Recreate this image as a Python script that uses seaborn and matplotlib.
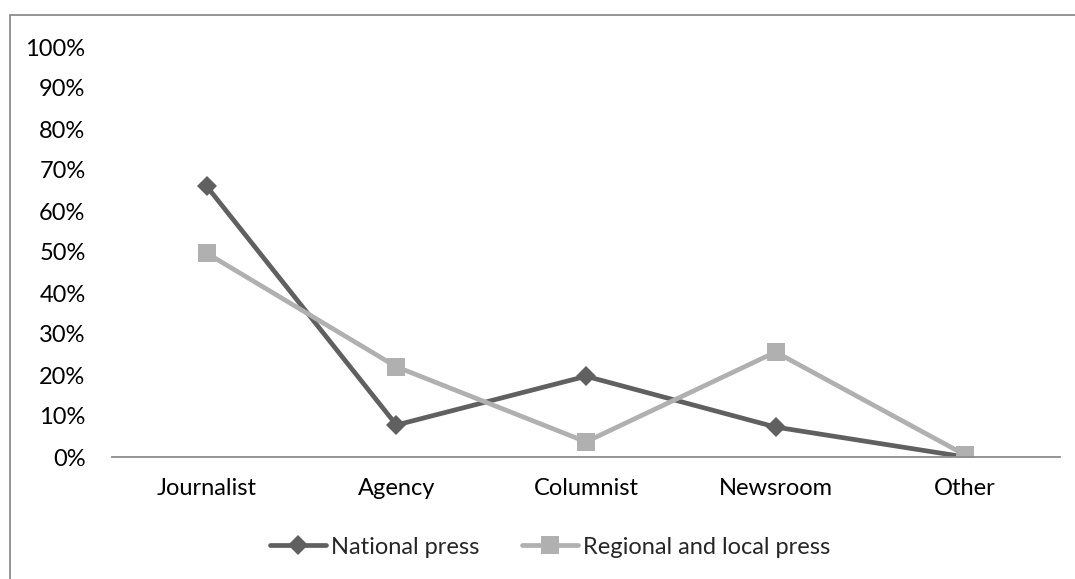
import matplotlib
matplotlib.use("Agg")
import matplotlib.pyplot as plt
import seaborn as sns
import pandas as pd
from matplotlib.patches import Rectangle
from matplotlib.ticker import PercentFormatter

categories = ["Journalist", "Agency", "Columnist", "Newsroom", "Other"]
national_press = [0.66, 0.078, 0.197, 0.073, 0.0]
regional_local_press = [0.497, 0.22, 0.037, 0.256, 0.005]
series_names = ["National press", "Regional and local press"]
y_ticks = [i / 10 for i in range(11)]

df = pd.DataFrame({
    "category": categories * 2,
    "share": national_press + regional_local_press,
    "series": [series_names[0]] * len(categories) + [series_names[1]] * len(categories),
})

sns.set_theme(style="white")
plt.rcParams["font.family"] = ["Lato", "DejaVu Sans"]
FS = 17

fig = plt.figure(figsize=(10.75, 5.79), dpi=100)
ax = fig.add_axes([112 / 1075, 122 / 579, 948 / 1075, 410 / 579])

palette = {series_names[0]: "#606060", series_names[1]: "#b0b0b0"}
markers = {series_names[0]: "D", series_names[1]: "s"}
sizes = {series_names[0]: 10, series_names[1]: 13.5}

for name in series_names:
    sub = df[df["series"] == name]
    sns.lineplot(data=sub, x="category", y="share", ax=ax, sort=False,
                 color=palette[name], linewidth=3.4, marker=markers[name],
                 markersize=sizes[name], markeredgewidth=0, label=name)

ax.set_xlim(-0.5, len(categories) - 0.5)
ax.set_ylim(0, 1)
ax.set_yticks(y_ticks)
ax.yaxis.set_major_formatter(PercentFormatter(1.0, decimals=0))
ax.set_xlabel("")
ax.set_ylabel("")
for side in ["top", "right", "left"]:
    ax.spines[side].set_visible(False)
ax.spines["bottom"].set_color("#8c8c8c")
ax.spines["bottom"].set_linewidth(1.3)
ax.tick_params(axis="y", length=0, pad=19, labelsize=FS, labelcolor="#000000")
ax.tick_params(axis="x", length=0, pad=15, labelsize=FS, labelcolor="#000000")
ax.grid(False)

ax.legend(loc="center", bbox_to_anchor=(550 / 1075, 32 / 579),
          bbox_transform=fig.transFigure, ncol=2, frameon=False,
          fontsize=FS, handlelength=2.4, columnspacing=1.8, handletextpad=0.2)

# outer chart frame
fig.patches.append(Rectangle((10 / 1075, -0.05), 1.1, (579 - 15) / 579 + 0.05,
                             transform=fig.transFigure, fill=False,
                             edgecolor="#8c8c8c", linewidth=1.3))

fig.savefig("out.png", dpi=100)
